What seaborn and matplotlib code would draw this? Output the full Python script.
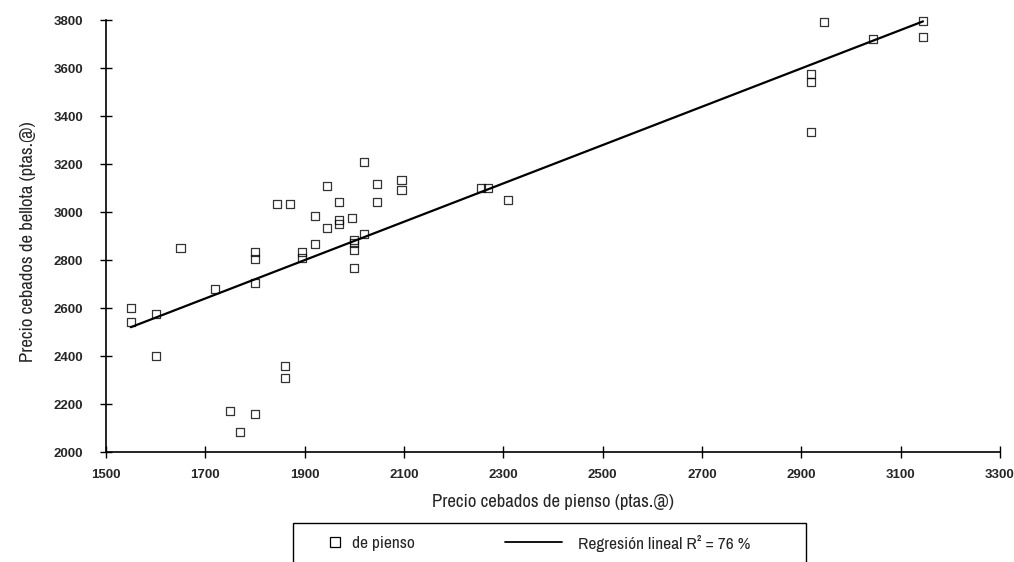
import numpy as np
import pandas as pd
import matplotlib
matplotlib.use("Agg")
import matplotlib.pyplot as plt
import seaborn as sns
from matplotlib.lines import Line2D
from matplotlib.patches import Rectangle

# precio cebados de pienso (x) y de bellota (y), ptas./@
pienso = [1550, 1550, 1600, 1600, 1650, 1720, 1750, 1770, 1800, 1800, 1800, 1800,
          1845, 1870, 1860, 1860, 1895, 1895, 1920, 1920, 1945, 1945, 1970, 1970,
          1970, 1995, 2000, 2000, 2000, 2000, 2020, 2020, 2045, 2045, 2095, 2095,
          2255, 2270, 2310, 2920, 2920, 2920, 2945, 3045, 3145, 3145]
bellota = [2540, 2600, 2575, 2400, 2850, 2680, 2170, 2085, 2835, 2805, 2705, 2160,
           3035, 3035, 2360, 2310, 2835, 2810, 2985, 2865, 3110, 2935, 3040, 2965,
           2950, 2975, 2885, 2870, 2840, 2765, 2910, 3210, 3115, 3040, 3135, 3090,
           3100, 3100, 3050, 3575, 3540, 3335, 3790, 3720, 3795, 3730]

x_ticks = [1500, 1700, 1900, 2100, 2300, 2500, 2700, 2900, 3100, 3300]
y_ticks = [2000, 2200, 2400, 2600, 2800, 3000, 3200, 3400, 3600, 3800]

df = pd.DataFrame({"pienso": pienso, "bellota": bellota})

sns.set_style("ticks")
narrow = ["Archivo Narrow", "Liberation Sans", "DejaVu Sans"]
plt.rcParams["font.family"] = narrow

fig = plt.figure(figsize=(10.14, 5.62), dpi=100)
ax = fig.add_axes([0.1045, 0.1957, 0.8817, 0.7687])

sns.regplot(x="pienso", y="bellota", data=df, ax=ax, ci=None, marker="s",
            scatter_kws=dict(facecolors="none", edgecolors="black", s=34,
                             linewidths=0.9, clip_on=False),
            line_kws=dict(color="black", lw=1.6, clip_on=False))

ax.set_xlim(1500, 3300)
ax.set_ylim(2000, 3800)
ax.set_xticks(x_ticks)
ax.set_yticks(y_ticks)
sns.despine(ax=ax)
for s in ["left", "bottom"]:
    ax.spines[s].set_linewidth(1.2)
    ax.spines[s].set_color("black")

ax.tick_params(axis="both", direction="inout", length=9, width=1, color="black",
               labelsize=9.5)
ax.tick_params(axis="y", pad=12)
ax.tick_params(axis="x", pad=8)
for t in ax.get_xticklabels() + ax.get_yticklabels():
    t.set_fontweight("bold")
    t.set_family(["Liberation Sans", "DejaVu Sans"])

ax.set_xlabel("Precio cebados de pienso (ptas.@)", fontsize=13.5)
ax.set_ylabel("Precio cebados de bellota (ptas.@)", fontsize=13.5)
ax.xaxis.set_label_coords(0.5, -0.098)
ax.yaxis.set_label_coords(-0.078, 0.486)

# leyenda: caja abierta por abajo, dos entradas
fig.add_artist(Rectangle((293 / 1014, -0.05), 513 / 1014, 1 - 523 / 562 + 0.05,
                         transform=fig.transFigure, fill=False, ec="black", lw=1.0))
ly = 1 - 543 / 562
h_pts = Line2D([], [], ls="none", marker="s", mfc="none", mec="black", ms=7.5, mew=0.9)
h_line = Line2D([], [], color="black", lw=1.3)
fig.legend([h_pts], ["de pienso"], loc="center left", bbox_to_anchor=(326 / 1014, ly),
           frameon=False, borderpad=0, borderaxespad=0, handlelength=1.0,
           handletextpad=0.5, prop=dict(size=12.5))
fig.legend([h_line], ["Regresión lineal R² = 76 %"], loc="center left",
           bbox_to_anchor=(505 / 1014, ly), frameon=False, borderpad=0,
           borderaxespad=0, handlelength=3.3, handletextpad=0.9, prop=dict(size=12.5))

fig.savefig("out.png", dpi=100)
